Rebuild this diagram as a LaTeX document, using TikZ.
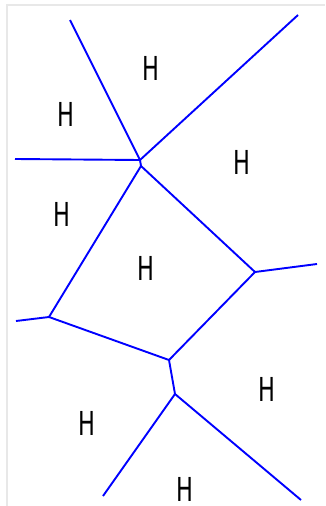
\documentclass[tikz,border=0pt]{standalone}
\usepackage{fontspec}
\newfontfamily\hfont{DejaVu Sans}
\tikzset{
  edge/.style={draw=blue, line width=1.9pt},
  frame/.style={draw=black!9, line width=1.2pt},
  lab/.style={inner sep=0pt, font=\hfont\fontsize{33}{33}\selectfont},
}
\newcommand{\hlab}{\scalebox{0.68}[1]{H}}
\begin{document}
\begin{tikzpicture}[x=1pt,y=-1pt]
\useasboundingbox (0,0) rectangle (325,506);
\draw[frame] (7,506) -- (7,5) -- (325,5);
\coordinate (V1) at (140,160);
\coordinate (V2) at (141,166);
\coordinate (Pul) at (70,20);
\coordinate (Pur) at (298,15);
\coordinate (Pl) at (15,159);
\coordinate (B) at (49,317);
\coordinate (Pbl) at (16,321);
\coordinate (C) at (255,272);
\coordinate (Pr) at (317,264);
\coordinate (D) at (169,360);
\coordinate (E) at (175,394);
\coordinate (Pb1) at (103,496);
\coordinate (Pb2) at (301,500);
\draw[edge] (Pul) -- (V1);
\draw[edge] (Pur) -- (V1);
\draw[edge] (Pl) -- (V1);
\draw[edge] (V1) -- (V2);
\draw[edge] (V2) -- (B);
\draw[edge] (V2) -- (C);
\draw[edge] (Pbl) -- (B);
\draw[edge] (B) -- (D);
\draw[edge] (C) -- (Pr);
\draw[edge] (C) -- (D);
\draw[edge] (D) -- (E);
\draw[edge] (E) -- (Pb1);
\draw[edge] (E) -- (Pb2);
\node[lab] (h1) at (151,68) {\hlab};
\node[lab] (h2) at (66,114) {\hlab};
\node[lab] (h3) at (242,162) {\hlab};
\node[lab] (h4) at (62,214) {\hlab};
\node[lab] (h5) at (146,268) {\hlab};
\node[lab] (h6) at (267,389) {\hlab};
\node[lab] (h7) at (87,423) {\hlab};
\node[lab] (h8) at (185,489) {\hlab};
\end{tikzpicture}
\end{document}
